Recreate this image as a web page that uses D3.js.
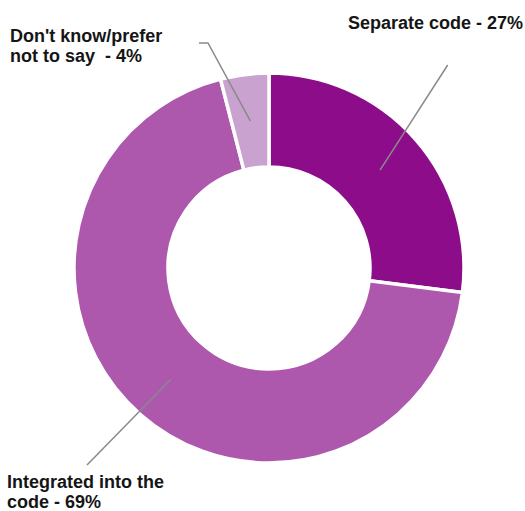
<!DOCTYPE html>
<html>
<head>
<meta charset="utf-8">
<script src="https://cdn.jsdelivr.net/npm/d3@7"></script>
<style>
  html, body { margin: 0; padding: 0; background: #fff; }
  svg { display: block; }
</style>
</head>
<body>
<svg id="chart" width="525" height="511"></svg>
<script>
// Survey responses: how the provision is handled
const categories = ["Separate code", "Integrated into the code", "Don't know/prefer not to say"];
const values = [27, 69, 4];
const colors = ["#8c0c8a", "#ad58ad", "#caa2cf"];
// Label text, split into lines
const labelLines = [
  ["Separate code - 27%"],
  ["Integrated into the", "code - 69%"],
  ["Don't know/prefer", "not to say  - 4%"]
];

const W = 525, H = 511;
const cx = 269, cy = 268;
const outerR = 195, innerR = 101;

const svg = d3.select("#chart");
const g = svg.append("g").attr("transform", `translate(${cx},${cy})`);

const pie = d3.pie().sort(null).value(d => d);
const arcs = pie(values);
const arc = d3.arc().innerRadius(innerR).outerRadius(outerR);

g.selectAll("path.slice")
  .data(arcs)
  .join("path")
  .attr("class", "slice")
  .attr("d", arc)
  .attr("fill", (d, i) => colors[i])
  .attr("stroke", "#fff")
  .attr("stroke-width", 3.5)
  .attr("stroke-linejoin", "miter");

// Leader lines run from each slice's centroid out to its label
const labelLayout = [
  { x: 348, y: 29, lead: [[447.7, 65]] },
  { x: 7,   y: 487.5, lead: [[87, 465]] },
  { x: 10,  y: 42, lead: [[208, 43], [199, 43]] }
];

const line = d3.line();
arcs.forEach((d, i) => {
  const c = arc.centroid(d);
  const pts = [[c[0] + cx, c[1] + cy]].concat(labelLayout[i].lead);
  svg.append("path")
    .attr("d", line(pts))
    .attr("fill", "none")
    .attr("stroke", "#8a8a8a")
    .attr("stroke-width", 1.5);
});

labelLines.forEach((lines, i) => {
  const t = svg.append("text")
    .attr("x", labelLayout[i].x)
    .attr("y", labelLayout[i].y)
    .attr("font-family", "'Liberation Sans', Arial, sans-serif")
    .attr("font-weight", "bold")
    .attr("font-size", 18)
    .attr("fill", "#151515");
  lines.forEach((s, k) => {
    t.append("tspan")
      .attr("x", labelLayout[i].x)
      .attr("dy", k === 0 ? 0 : 20)
      .attr("xml:space", "preserve")
      .text(s);
  });
});
</script>
</body>
</html>
